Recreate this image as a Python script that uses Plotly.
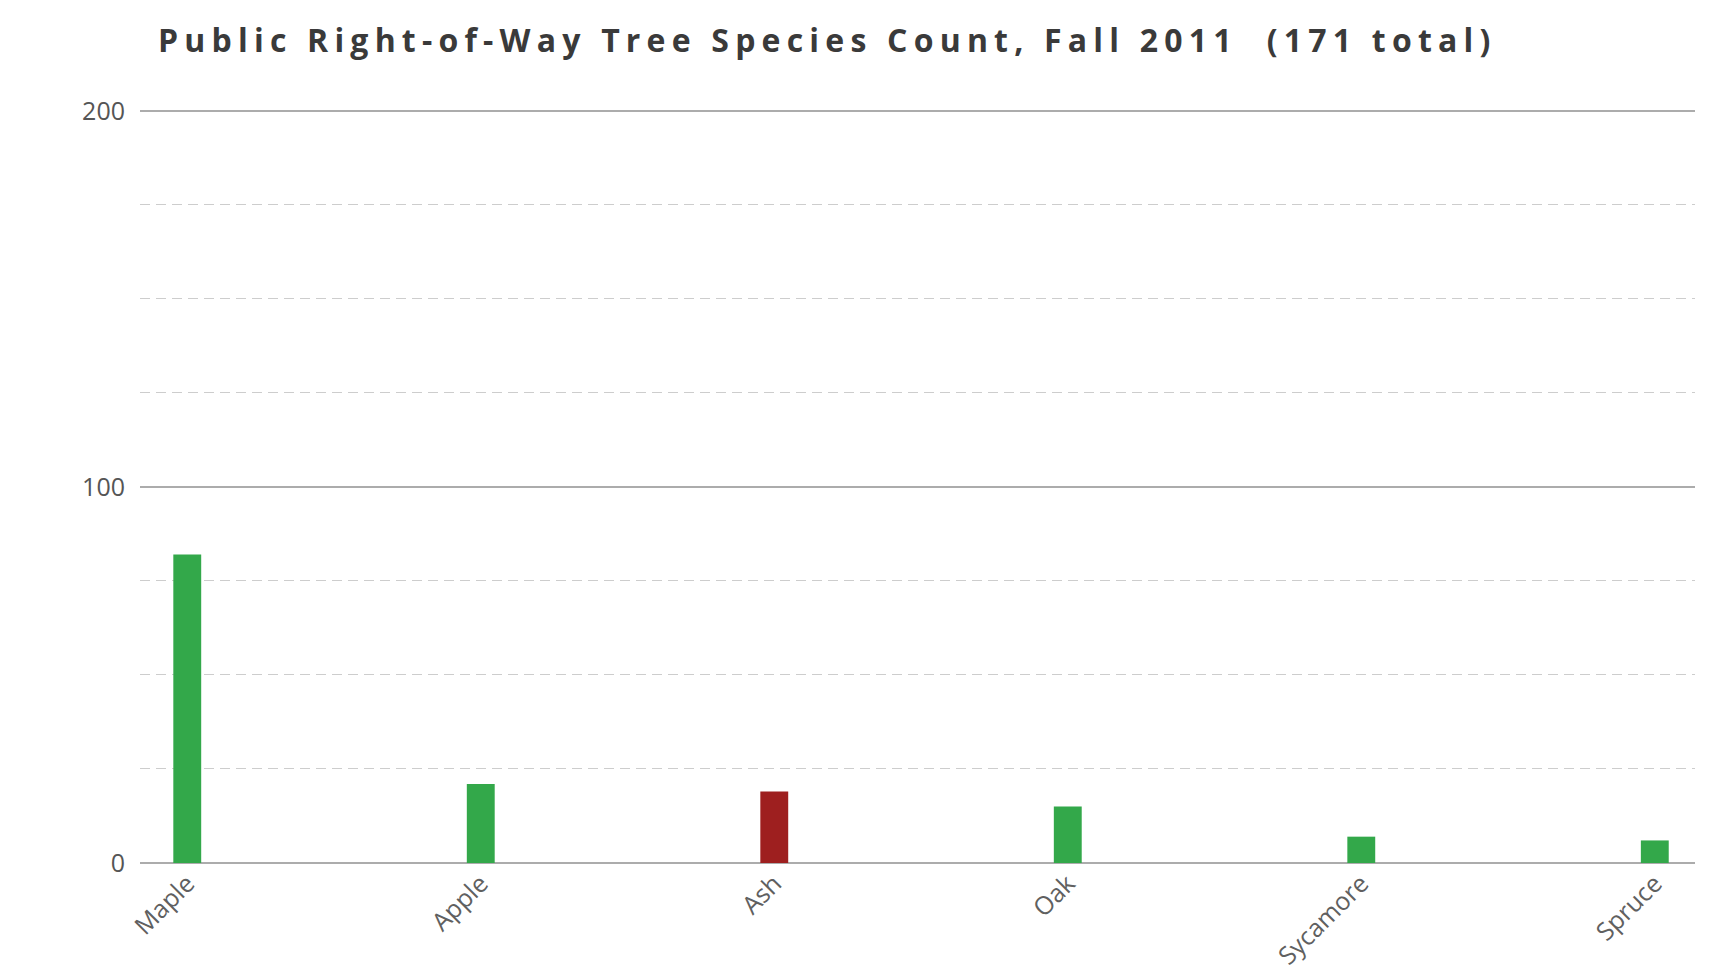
import plotly.graph_objects as go

species = ["Maple", "Apple", "Ash", "Oak", "Sycamore", "Spruce"]
counts = [82, 21, 19, 15, 7, 6]
bar_colors = ["#33a84a", "#33a84a", "#9e1f1f", "#33a84a", "#33a84a", "#33a84a"]
title_text = "Public Right-of-Way Tree Species Count, Fall 2011  (171 total)"
y_ticks = [0, 100, 200]

fig = go.Figure()
fig.add_trace(go.Bar(
    x=species, y=counts,
    marker=dict(color=bar_colors, line=dict(width=0)),
    width=0.095,
))

fig.update_layout(
    width=1709, height=969,
    paper_bgcolor="white", plot_bgcolor="white",
    margin=dict(l=140, r=14, t=107, b=106, autoexpand=False),
    showlegend=False,
    title=dict(
        text=title_text,
        x=158 / 1709, xanchor="left", xref="container",
        y=1 - 41 / 969, yanchor="middle", yref="container",
        font=dict(family="Open Sans", size=32, color="#3a3a3a", weight="bold"),
    ),
    xaxis=dict(
        range=[-0.161, 5.137],
        showgrid=False, showline=False, zeroline=False,
        tickangle=-45,
        tickfont=dict(family="Open Sans", size=25, color="#606060"),
        ticks="",
    ),
    yaxis=dict(
        range=[0, 201],
        tickvals=y_ticks,
        showgrid=True, gridcolor="#acacac", gridwidth=1.5,
        zeroline=True, zerolinecolor="#acacac", zerolinewidth=2,
        showline=False, ticks="",
        tickfont=dict(family="Open Sans", size=25, color="#555555"),
        ticklabelstandoff=14,
        minor=dict(dtick=25, showgrid=True, gridcolor="#cdcdcd", gridwidth=1.2, griddash="10px,6px"),
    ),
)

fig.write_html(
    "out.html",
    config={"displayModeBar": False},
    post_script=(
        "document.body.style.margin='0';"
        "document.querySelectorAll('.gtitle').forEach(function(e){e.style.letterSpacing='6.2px';});"
    ),
)
